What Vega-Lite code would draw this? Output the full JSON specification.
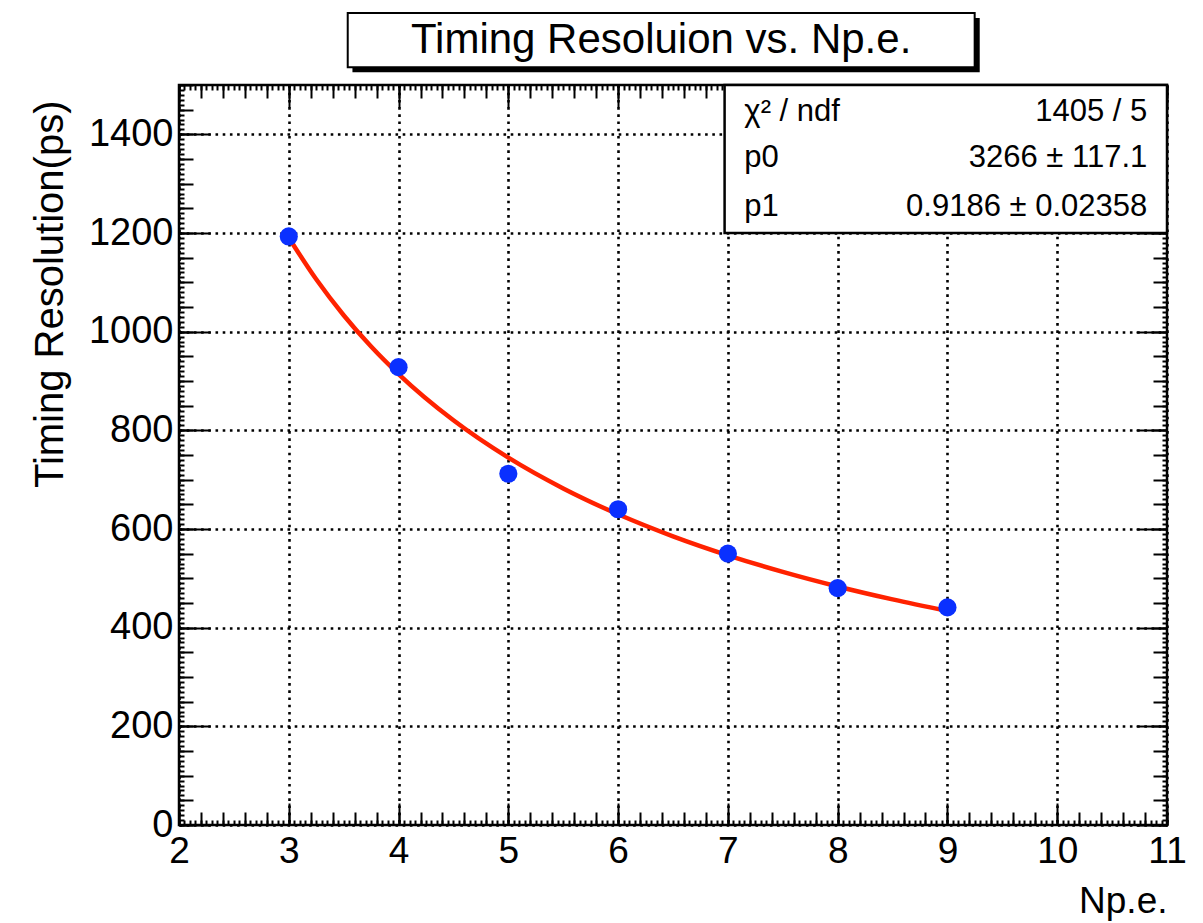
{
  "$schema": "https://vega.github.io/schema/vega-lite/v6.json",
  "width": 988,
  "height": 740,
  "autosize": {"type": "none"},
  "padding": {"left": 179, "top": 85, "right": 36, "bottom": 98},
  "background": "white",
  "datasets": {
    "measured": [
      {"np": 3, "res": 1193},
      {"np": 4, "res": 928},
      {"np": 5, "res": 712},
      {"np": 6, "res": 640},
      {"np": 7, "res": 550},
      {"np": 8, "res": 480},
      {"np": 9, "res": 441}
    ],
    "fit": [
      {"np": 3.0, "res": 1190.5},
      {"np": 3.25, "res": 1106.1},
      {"np": 3.5, "res": 1033.3},
      {"np": 3.75, "res": 969.8},
      {"np": 4.0, "res": 914.0},
      {"np": 4.5, "res": 820.3},
      {"np": 5.0, "res": 744.6},
      {"np": 5.5, "res": 682.2},
      {"np": 6.0, "res": 629.8},
      {"np": 6.5, "res": 585.1},
      {"np": 7.0, "res": 546.6},
      {"np": 7.5, "res": 513.1},
      {"np": 8.0, "res": 483.5},
      {"np": 8.5, "res": 457.3},
      {"np": 9.0, "res": 433.9}
    ],
    "one": [{"k": 1}]
  },
  "config": {
    "view": {"stroke": "black", "strokeWidth": 2.5},
    "axis": {
      "labelFont": "Liberation Sans",
      "titleFont": "Liberation Sans",
      "labelColor": "black",
      "titleColor": "black",
      "tickColor": "black",
      "tickWidth": 2,
      "domain": false,
      "grid": false,
      "labels": false,
      "labelFlush": false,
      "labelOverlap": false,
      "labelBound": false
    },
    "text": {"font": "Liberation Sans", "color": "black"}
  },
  "resolve": {
    "scale": {"x": "shared", "y": "shared"},
    "axis": {"x": "independent", "y": "independent"}
  },
  "layer": [
    {
      "data": {"name": "fit"},
      "mark": {"type": "line", "color": "#ff2200", "strokeWidth": 4.5, "interpolate": "monotone"},
      "encoding": {
        "x": {"field": "np", "type": "quantitative", "scale": {"domain": [2, 11], "nice": false, "zero": false},
          "axis": {"orient": "bottom", "title": null, "values": [2, 3, 4, 5, 6, 7, 8, 9, 10, 11], "tickSize": -22,
            "grid": true, "gridColor": "black", "gridOpacity": 1, "gridWidth": 2.6, "gridDash": [2.6, 4.6]}},
        "y": {"field": "res", "type": "quantitative", "scale": {"domain": [0, 1500], "nice": false, "zero": true},
          "axis": {"orient": "left", "title": null, "values": [0, 200, 400, 600, 800, 1000, 1200, 1400], "tickSize": -31,
            "grid": true, "gridColor": "black", "gridOpacity": 1, "gridWidth": 2.6, "gridDash": [2.6, 4.6]}}
      }
    },
    {
      "data": {"name": "measured"},
      "mark": {"type": "circle", "size": 330, "color": "#0a30ff", "opacity": 1},
      "encoding": {
        "x": {"field": "np", "type": "quantitative", "scale": {"domain": [2, 11], "nice": false, "zero": false},
          "axis": {"orient": "bottom", "values": [2, 3, 4, 5, 6, 7, 8, 9, 10, 11], "ticks": false, "labels": true,
            "format": "d", "labelFontSize": 37, "labelPadding": 8, "labelBaseline": "top",
            "title": "Np.e.", "titleFontSize": 37, "titleFontWeight": "normal", "titleAlign": "right",
            "titleBaseline": "middle", "titleX": 988, "titleY": 76}},
        "y": {"field": "res", "type": "quantitative", "scale": {"domain": [0, 1500], "nice": false, "zero": true},
          "axis": {"orient": "left", "values": [0, 200, 400, 600, 800, 1000, 1200, 1400], "ticks": false, "labels": true,
            "format": "d", "labelFontSize": 38, "labelPadding": 6, "labelBaseline": "middle",
            "title": "Timing Resolution(ps)", "titleFontSize": 40, "titleFontWeight": "normal", "titleAngle": 270,
            "titleAlign": "right", "titleBaseline": "middle", "titleX": -129, "titleY": 15}}
      }
    },
    {
      "data": {"name": "measured"},
      "mark": {"type": "point", "opacity": 0},
      "encoding": {
        "x": {"field": "np", "type": "quantitative", "axis": {"orient": "bottom", "title": null, "tickCount": 45, "tickSize": -13}},
        "y": {"field": "res", "type": "quantitative", "axis": {"orient": "left", "title": null, "tickCount": 30, "tickSize": -14}}
      }
    },
    {
      "data": {"name": "measured"},
      "mark": {"type": "point", "opacity": 0},
      "encoding": {
        "x": {"field": "np", "type": "quantitative", "axis": {"orient": "bottom", "title": null, "tickCount": 180, "tickSize": -5}},
        "y": {"field": "res", "type": "quantitative", "axis": {"orient": "left", "title": null, "tickCount": 150, "tickSize": -5}}
      }
    },
    {
      "data": {"name": "measured"},
      "mark": {"type": "point", "opacity": 0},
      "encoding": {
        "x": {"field": "np", "type": "quantitative", "axis": {"orient": "top", "title": null, "values": [2, 3, 4, 5, 6, 7, 8, 9, 10, 11], "tickSize": -22}},
        "y": {"field": "res", "type": "quantitative", "axis": {"orient": "right", "title": null, "values": [0, 200, 400, 600, 800, 1000, 1200, 1400], "tickSize": -31}}
      }
    },
    {
      "data": {"name": "measured"},
      "mark": {"type": "point", "opacity": 0},
      "encoding": {
        "x": {"field": "np", "type": "quantitative", "axis": {"orient": "top", "title": null, "tickCount": 45, "tickSize": -13}},
        "y": {"field": "res", "type": "quantitative", "axis": {"orient": "right", "title": null, "tickCount": 30, "tickSize": -14}}
      }
    },
    {
      "data": {"name": "measured"},
      "mark": {"type": "point", "opacity": 0},
      "encoding": {
        "x": {"field": "np", "type": "quantitative", "axis": {"orient": "top", "title": null, "tickCount": 180, "tickSize": -5}},
        "y": {"field": "res", "type": "quantitative", "axis": {"orient": "right", "title": null, "tickCount": 150, "tickSize": -5}}
      }
    },
    {
      "data": {"name": "one"},
      "mark": {"type": "rect", "fill": "black"},
      "encoding": {
        "x": {"datum": 3.58, "type": "quantitative", "axis": null},
        "x2": {"datum": 9.294},
        "y": {"datum": 1636, "type": "quantitative", "axis": null},
        "y2": {"datum": 1526}
      }
    },
    {
      "data": {"name": "one"},
      "mark": {"type": "rect", "fill": "white", "stroke": "black", "strokeWidth": 2},
      "encoding": {
        "x": {"datum": 3.537, "type": "quantitative", "axis": null},
        "x2": {"datum": 9.248},
        "y": {"datum": 1646, "type": "quantitative", "axis": null},
        "y2": {"datum": 1536}
      }
    },
    {
      "data": {"name": "one"},
      "mark": {"type": "text", "text": "Timing Resoluion vs. Np.e.", "fontSize": 42, "align": "center", "baseline": "middle"},
      "encoding": {
        "x": {"datum": 6.392, "type": "quantitative", "axis": null},
        "y": {"datum": 1591, "type": "quantitative", "axis": null}
      }
    },
    {
      "data": {"name": "one"},
      "mark": {"type": "rect", "fill": "white", "stroke": "black", "strokeWidth": 2.5},
      "encoding": {
        "x": {"datum": 6.97, "type": "quantitative", "axis": null},
        "x2": {"datum": 11},
        "y": {"datum": 1500, "type": "quantitative", "axis": null},
        "y2": {"datum": 1200}
      }
    },
    {
      "data": {"name": "one"},
      "mark": {"type": "text", "text": "χ² / ndf", "fontSize": 31, "align": "left", "baseline": "middle"},
      "encoding": {
        "x": {"datum": 7.15, "type": "quantitative", "axis": null},
        "y": {"datum": 1445, "type": "quantitative", "axis": null}
      }
    },
    {
      "data": {"name": "one"},
      "mark": {"type": "text", "text": "1405 / 5", "fontSize": 31, "align": "right", "baseline": "middle"},
      "encoding": {
        "x": {"datum": 10.82, "type": "quantitative", "axis": null},
        "y": {"datum": 1445, "type": "quantitative", "axis": null}
      }
    },
    {
      "data": {"name": "one"},
      "mark": {"type": "text", "text": "p0", "fontSize": 31, "align": "left", "baseline": "middle"},
      "encoding": {
        "x": {"datum": 7.15, "type": "quantitative", "axis": null},
        "y": {"datum": 1352, "type": "quantitative", "axis": null}
      }
    },
    {
      "data": {"name": "one"},
      "mark": {"type": "text", "text": "3266 ± 117.1", "fontSize": 31, "align": "right", "baseline": "middle"},
      "encoding": {
        "x": {"datum": 10.82, "type": "quantitative", "axis": null},
        "y": {"datum": 1352, "type": "quantitative", "axis": null}
      }
    },
    {
      "data": {"name": "one"},
      "mark": {"type": "text", "text": "p1", "fontSize": 31, "align": "left", "baseline": "middle"},
      "encoding": {
        "x": {"datum": 7.15, "type": "quantitative", "axis": null},
        "y": {"datum": 1253, "type": "quantitative", "axis": null}
      }
    },
    {
      "data": {"name": "one"},
      "mark": {"type": "text", "text": "0.9186 ± 0.02358", "fontSize": 31, "align": "right", "baseline": "middle"},
      "encoding": {
        "x": {"datum": 10.82, "type": "quantitative", "axis": null},
        "y": {"datum": 1253, "type": "quantitative", "axis": null}
      }
    }
  ]
}
